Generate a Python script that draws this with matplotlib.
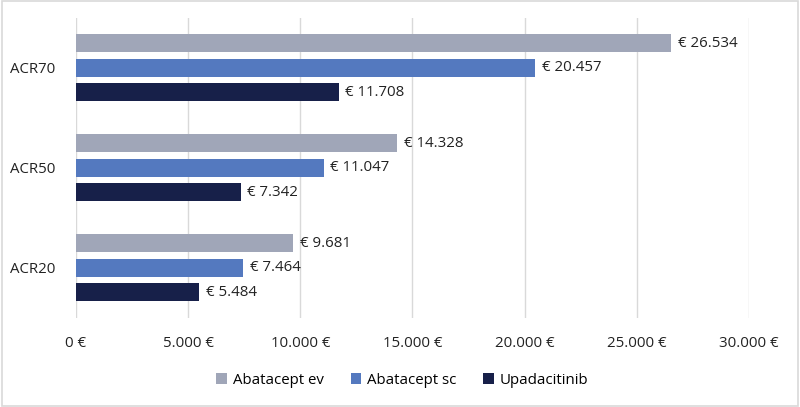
import numpy as np
import matplotlib.pyplot as plt
from matplotlib.ticker import FuncFormatter

categories = ["ACR20", "ACR50", "ACR70"]
series = ["Abatacept ev", "Abatacept sc", "Upadacitinib"]
abatacept_ev = [9681, 14328, 26534]
abatacept_sc = [7464, 11047, 20457]
upadacitinib = [5484, 7342, 11708]
colors = ["#A0A6B8", "#5479BF", "#172049"]


def euro(v):
    return "{:,.0f}".format(v).replace(",", ".")


plt.rcParams['font.family'] = ['Open Sans', 'DejaVu Sans']
fig = plt.figure(figsize=(8, 4.07), dpi=100)
ax = fig.add_axes([0.095, 0.2187, 0.841, 0.7371])

fs = 10.8
y = np.arange(len(categories))
offsets = [0.245, 0, -0.245]
for vals, off, col, name in zip([abatacept_ev, abatacept_sc, upadacitinib], offsets, colors, series):
    bars = ax.barh(y + off, vals, height=0.18, color=col, label=name, zorder=3)
    for b, v in zip(bars, vals):
        ax.text(v + 300, b.get_y() + b.get_height() / 2, "€ " + euro(v),
                va="center", ha="left", fontsize=fs, color="#222222")

ax.set_xlim(0, 30000)
ax.set_ylim(-0.5, 2.5)
ax.set_xticks(np.arange(0, 30001, 5000))
ax.xaxis.set_major_formatter(FuncFormatter(lambda v, p: euro(v) + " €"))
ax.set_yticks(y)
ax.set_yticklabels(categories)
ax.tick_params(axis="both", length=0, labelsize=fs, colors="#222222")
ax.tick_params(axis="x", pad=13)
ax.tick_params(axis="y", pad=15)
ax.grid(axis="x", color="#D9D9D9", linewidth=1, zorder=0)
for s in ax.spines.values():
    s.set_visible(False)

handles, labels = ax.get_legend_handles_labels()
fig.legend(handles, labels, loc="center", bbox_to_anchor=(0.503, 0.066), ncol=3,
           frameon=False, fontsize=fs, handlelength=0.7, handleheight=0.7,
           handletextpad=0.4, columnspacing=1.8)

border = plt.Rectangle((0.002, 0.003), 0.996, 0.994, transform=fig.transFigure,
                       fill=False, edgecolor="#D9D9D9", linewidth=1.2)
fig.patches.append(border)

fig.savefig("out.png", dpi=100)
